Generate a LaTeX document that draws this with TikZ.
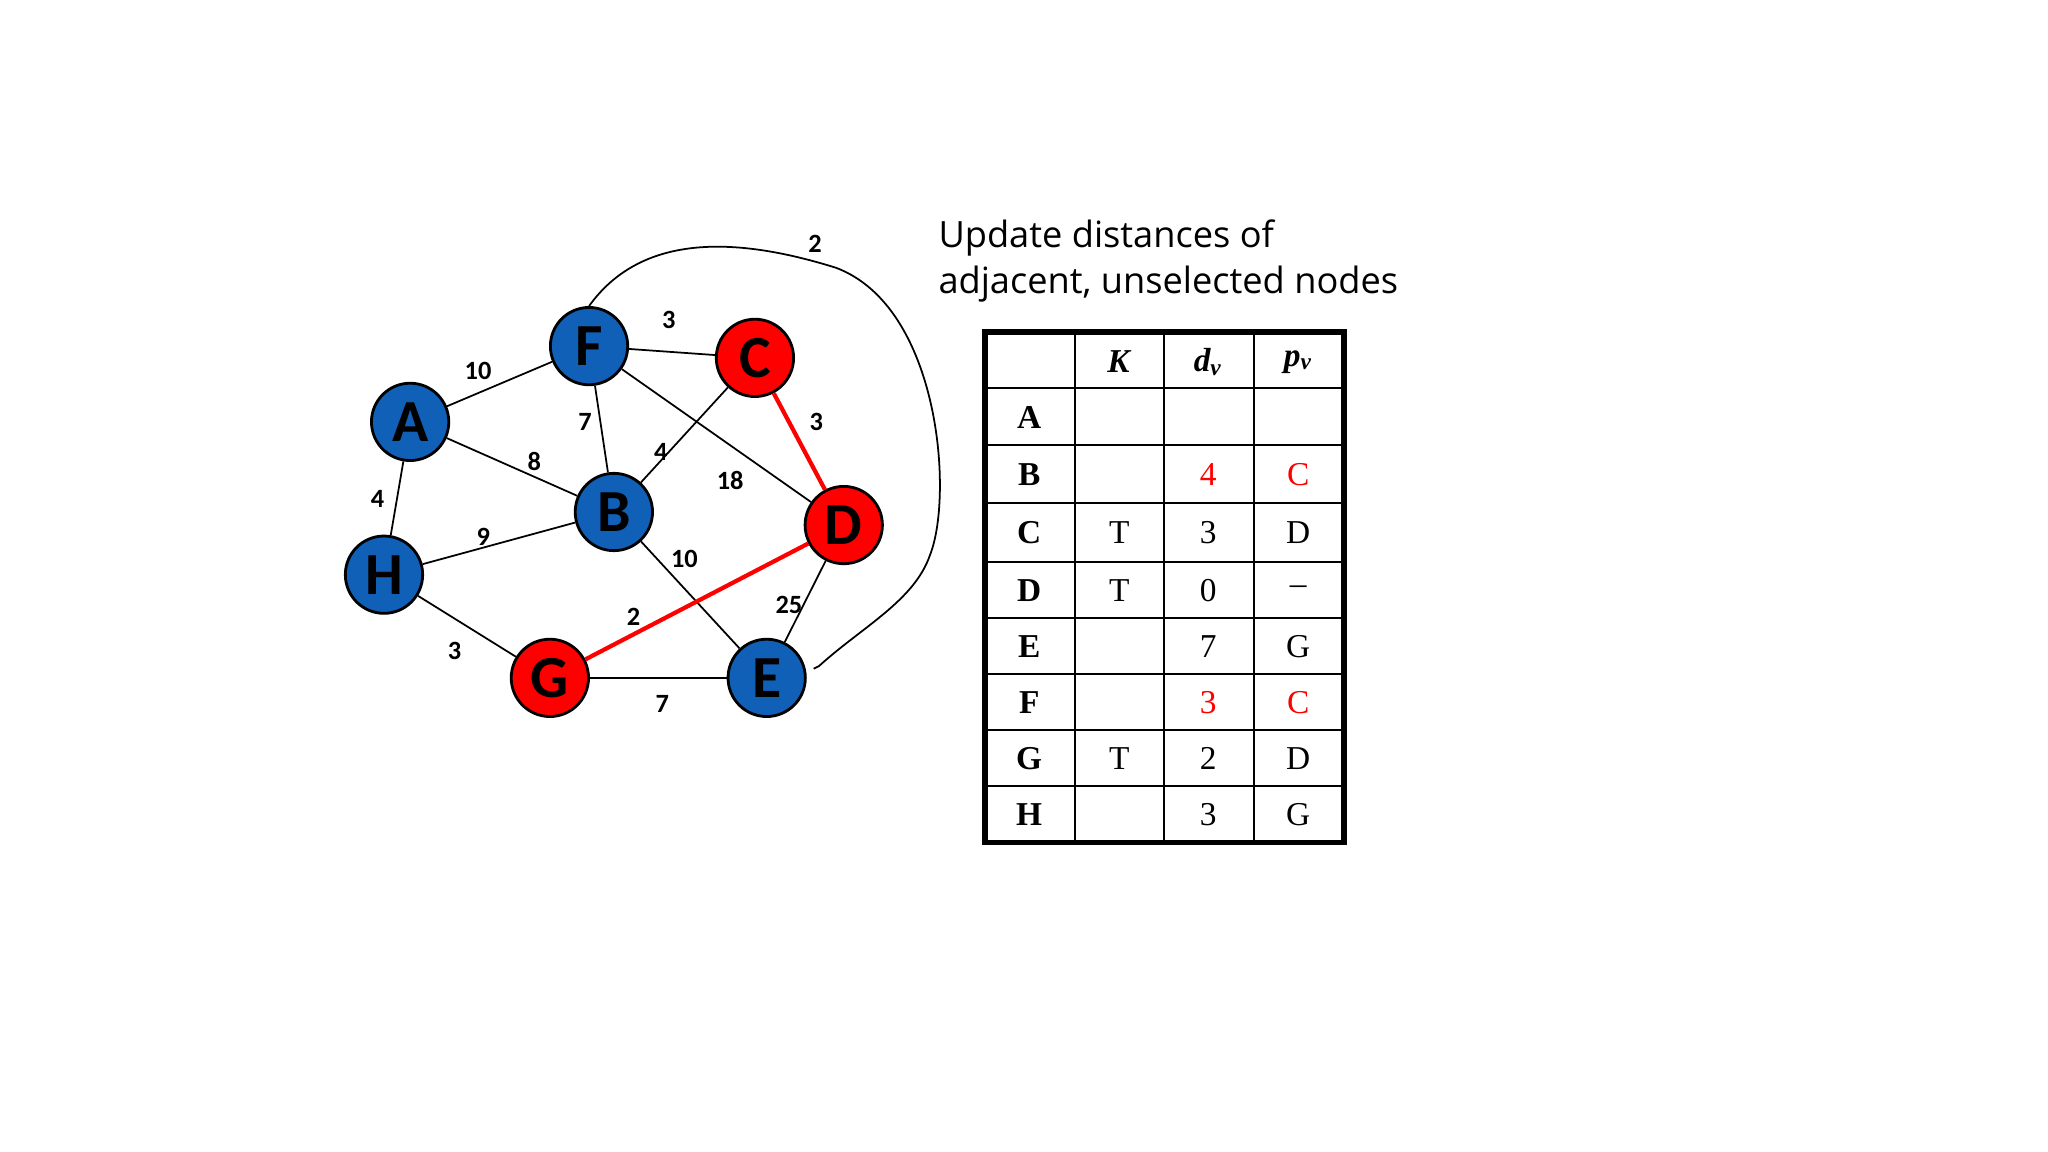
\documentclass[tikz,border=0pt]{standalone}
\usepackage{fontspec}
\setmainfont{Liberation Serif}
\newfontfamily\carl{Carlito}
\newfontfamily\osans{Open Sans}
\begin{document}
\begin{tikzpicture}[x=0.013061cm,y=-0.013061cm,
  vx/.style={circle,draw=black,thick,minimum size=22pt,inner sep=0pt,text=black,font=\carl\bfseries\fontsize{17}{17}\selectfont},
  blu/.style={vx,fill={rgb,255:red,16;green,96;blue,184}},
  rd/.style={vx,fill=red},
  e/.style={draw=black,line width=0.5pt},
  er/.style={draw=red,line width=1.2pt},
  w/.style={font=\carl\bfseries\fontsize{7.5}{8}\selectfont},
  tc/.style={font=\fontsize{9.5}{10}\selectfont}]
\useasboundingbox (0,0) rectangle (1568,882);
\node[blu] (F) at (451,265) {F};
\node[rd] (C) at (578,274) {C};
\node[blu] (A) at (314,323) {A};
\node[blu] (B) at (470,392) {B};
\node[rd] (D) at (646,402) {D};
\node[blu] (H) at (294,440) {H};
\node[rd] (G) at (421,519) {G};
\node[blu] (E) at (587,519) {E};
\draw[e] (A)--(F); \node[w] at (366,284) {10};
\draw[e] (F)--(C); \node[w] at (512,245) {3};
\draw[e] (F)--(B); \node[w] at (448,323) {7};
\draw[e] (F)--(D); \node[w] at (559,368) {18};
\draw[e] (A)--(B); \node[w] at (409,353) {8};
\draw[e] (C)--(B); \node[w] at (506,346) {4};
\draw[er] (C)--(D); \node[w] at (625,323) {3};
\draw[e] (A)--(H); \node[w] at (289,382) {4};
\draw[e] (H)--(B); \node[w] at (370,411) {9};
\draw[e] (B)--(E); \node[w] at (524,428) {10};
\draw[er] (D)--(G); \node[w] at (485,472) {2};
\draw[e] (D)--(E); \node[w] at (604,463) {25};
\draw[e] (H)--(G); \node[w] at (348,498) {3};
\draw[e] (G)--(E); \node[w] at (507,539) {7};
\coordinate (ce) at (627,510);
\draw[e] (F.north) .. controls (490,180) and (560,180) .. (640,205)
  .. controls (720,235) and (730,380) .. (712,425)
  .. controls (700,460) and (660,480) .. (ce) -- ++(-4,2);
\node[w] at (624,187) {2};
\node[font=\osans\fontsize{10.3}{13}\selectfont,anchor=north west,align=left,inner sep=0pt] (t) at (718,168) {Update distances of\\adjacent, unselected nodes};
\foreach \y in {297,341,385,430,473,516,559,602} \draw[line width=0.6pt] (754,\y)--(1029,\y);
\foreach \x in {823,891,960} \draw[line width=0.6pt] (\x,254)--(\x,645);
\draw[line width=1.6pt] (754,254) rectangle (1029,645);
\node[tc] at (857,277) {\textbf{\textit{K}}};
\node[tc] at (925,277) {\textbf{\textit{d\textsubscript{v}}}};
\node[tc] at (994,277) {\textbf{\textit{p\textsubscript{v}}}};
\foreach \l/\y/\k/\d/\p/\c in {A/320////black,B/363//4/C/red,C/408/T/3/D/black,D/452/T/0/\textendash/black,E/495//7/G/black,F/538//3/C/red,G/581/T/2/D/black,H/624//3/G/black}{
  \node[tc] at (788,\y) {\textbf{\l}};
  \node[tc] at (857,\y) {\k};
  \node[tc,text=\c] at (925,\y) {\d};
  \node[tc,text=\c] at (994,\y) {\p};
}
\end{tikzpicture}
\end{document}
